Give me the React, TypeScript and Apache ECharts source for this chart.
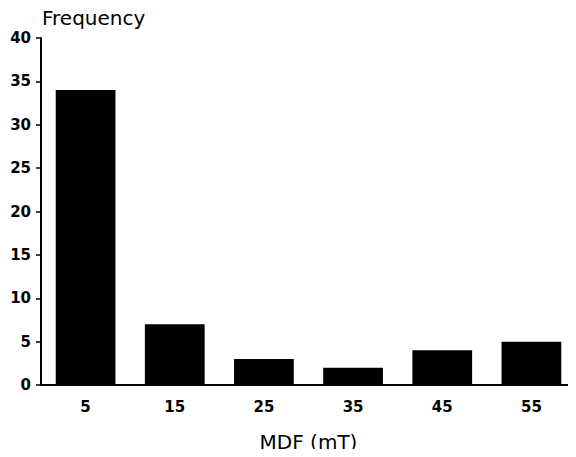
import React, { useEffect, useRef } from "react";
import * as echarts from "echarts";

const categories = ["5", "15", "25", "35", "45", "55"];
const frequency = [34, 7, 3, 2, 4, 5];
const yTicks = { min: 0, max: 40, interval: 5 };

export default function App() {
  const ref = useRef<HTMLDivElement>(null);
  useEffect(() => {
    if (!ref.current) return;
    const chart = echarts.init(ref.current, null, { renderer: "svg" });
    const font = "'DejaVu Sans', sans-serif";
    chart.setOption({
      animation: false,
      backgroundColor: "#ffffff",
      grid: { left: 41, right: 0, top: 38, bottom: 72, outerBoundsMode: "none", containLabel: false },
      xAxis: {
        type: "category",
        data: categories,
        name: "MDF (mT)",
        nameLocation: "middle",
        nameGap: 47,
        nameTextStyle: { color: "#000", fontSize: 20, fontFamily: font },
        axisLine: { lineStyle: { color: "#000", width: 2 } },
        axisTick: { alignWithLabel: true, length: 7, lineStyle: { color: "#000", width: 2 } },
        axisLabel: { color: "#000", fontSize: 15, fontWeight: "bold", fontFamily: font, margin: 14 },
      },
      yAxis: {
        type: "value",
        min: yTicks.min,
        max: yTicks.max,
        interval: yTicks.interval,
        splitLine: { show: false },
        axisLine: { show: true, lineStyle: { color: "#000", width: 2 } },
        axisTick: { show: true, length: 5, lineStyle: { color: "#000", width: 1.5 } },
        axisLabel: { color: "#000", fontSize: 15, fontWeight: "bold", fontFamily: font, margin: 10 },
      },
      graphic: [
        {
          type: "text",
          left: 42,
          top: 8,
          style: { text: "Frequency", fill: "#000", fontSize: 20, fontFamily: font },
        },
      ],
      series: [
        {
          type: "bar",
          data: frequency,
          barWidth: "67%",
          itemStyle: { color: "#000" },
        },
      ],
    });
    return () => chart.dispose();
  }, []);
  return <div ref={ref} style={{ width: 576, height: 457, margin: -8 }} />;
}
